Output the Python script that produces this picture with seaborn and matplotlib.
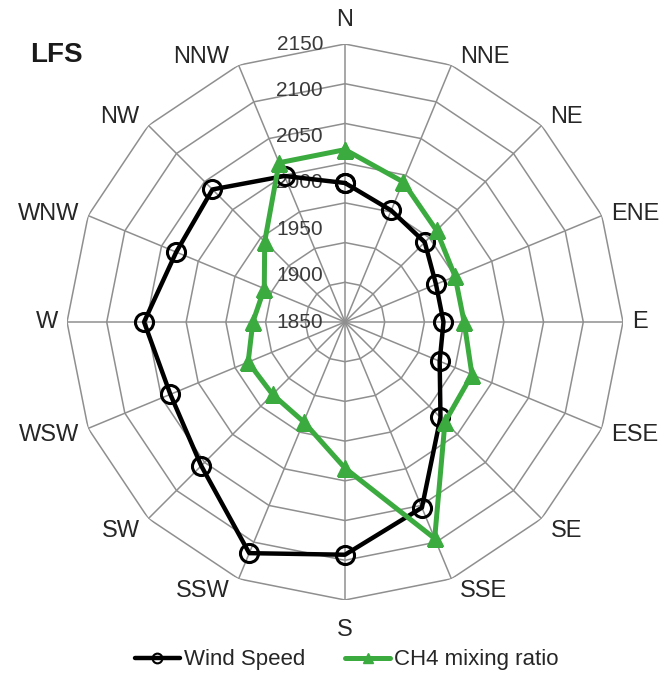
import numpy as np
import pandas as pd
import matplotlib
matplotlib.use("Agg")
import matplotlib.pyplot as plt
from matplotlib.lines import Line2D
import seaborn as sns

# Donnees lues sur la rose (valeurs approx.)
directions = ["N", "NNE", "NE", "ENE", "E", "ESE", "SE", "SSE",
              "S", "SSW", "SW", "WSW", "W", "WNW", "NW", "NNW"]
wind_speed = [1975, 1952, 1942, 1924, 1924, 1929, 1970, 2053,
              2093, 2115, 2056, 2038, 2053, 2030, 2036, 1999]
ch4_ratio = [2017, 1991, 1963, 1950, 1950, 1973, 1978, 2095,
             1984, 1936, 1929, 1932, 1916, 1910, 1943, 2017]
ring_levels = [1850, 1900, 1950, 2000, 2050, 2100, 2150]
tick_labels = ["2150", "2100", "2050", "2000", "1950", "1900", "1850"]
r_min, r_max = 1800, 2150

GREEN = "#3BAA3F"
GRID = "#8f8f8f"

sns.set_style("white")
plt.rcParams["font.family"] = ["Liberation Sans", "DejaVu Sans"]

angles = np.deg2rad(np.arange(len(directions)) * 360 / len(directions))
theta = np.append(angles, angles[0])

df = pd.DataFrame({
    "theta": np.tile(theta, 2),
    "value": wind_speed + wind_speed[:1] + ch4_ratio + ch4_ratio[:1],
    "series": ["Wind Speed"] * len(theta) + ["CH4 mixing ratio"] * len(theta),
})

fig = plt.figure(figsize=(6.67, 6.74), dpi=100)
ax = fig.add_axes([67 / 667, 74 / 674, 556 / 667, 556 / 674], projection="polar")
ax.set_theta_zero_location("N")
ax.set_theta_direction(-1)

# grille polygonale facon Excel
for lvl in ring_levels:
    ax.plot(theta, [lvl] * len(theta), color=GRID, lw=1.1, zorder=1)
for a in angles:
    ax.plot([a, a], [r_min, r_max], color=GRID, lw=1.1, zorder=1)

sns.lineplot(data=df[df.series == "Wind Speed"], x="theta", y="value",
             sort=False, estimator=None, errorbar=None, ax=ax,
             color="black", lw=3.2, marker="o", markersize=13,
             markerfacecolor="none", markeredgecolor="black",
             markeredgewidth=2.2, zorder=3)
sns.lineplot(data=df[df.series == "CH4 mixing ratio"], x="theta", y="value",
             sort=False, estimator=None, errorbar=None, ax=ax,
             color=GREEN, lw=3.6, marker="^", markersize=11,
             markerfacecolor=GREEN, markeredgecolor=GREEN,
             markeredgewidth=1, zorder=4)

ax.set_ylim(r_min, r_max)
ax.grid(False)
ax.set_xticks([])
ax.set_yticks([])
ax.spines["polar"].set_visible(False)
ax.set_xlabel("")
ax.set_ylabel("")
if ax.get_legend() is not None:
    ax.get_legend().remove()

# etiquettes de l'axe radial (decalees comme dans l'original)
label_r = np.linspace(r_max, r_min, len(tick_labels))
for r, t in zip(label_r, tick_labels):
    ax.annotate(t, xy=(0, r), xytext=(-22, 0), textcoords="offset pixels",
                ha="right", va="center", fontsize=15, color="#3a3a3a",
                zorder=2, annotation_clip=False)

# etiquettes des directions
for a, name in zip(angles, directions):
    s, c = np.sin(a), np.cos(a)
    if s > 0.1:
        ha, dx = "left", 9
    elif s < -0.1:
        ha, dx = "right", -9
    else:
        ha, dx = "center", 0
    if abs(c) < 0.5:
        va, dy = "center", (5 * c if c >= 0 else 16 * c)
    elif c > 0:
        va, dy = "baseline", (18 if dx == 0 else 2)
    else:
        va, dy = "top", (-19 if dx == 0 else -1)
    ax.annotate(name, xy=(a, r_max), xytext=(dx, dy), textcoords="offset pixels",
                ha=ha, va=va, fontsize=17, color="#262626", annotation_clip=False)

fig.text(56 / 667, 1 - 55.5 / 674, "LFS", ha="center", va="center",
         fontsize=20, fontweight="bold", color="#1a1a1a")

handles = [
    Line2D([], [], color="black", lw=3.2, marker="o", markersize=7,
           markerfacecolor="none", markeredgewidth=1.5),
    Line2D([], [], color=GREEN, lw=3.6, marker="^", markersize=7),
]
fig.legend(handles, ["Wind Speed", "CH4 mixing ratio"], loc="center",
           bbox_to_anchor=(347 / 667, 14 / 674), ncol=2, frameon=False,
           fontsize=16, handlelength=2.0, handletextpad=0.2, columnspacing=1.8)

fig.savefig("out.png", dpi=100)
